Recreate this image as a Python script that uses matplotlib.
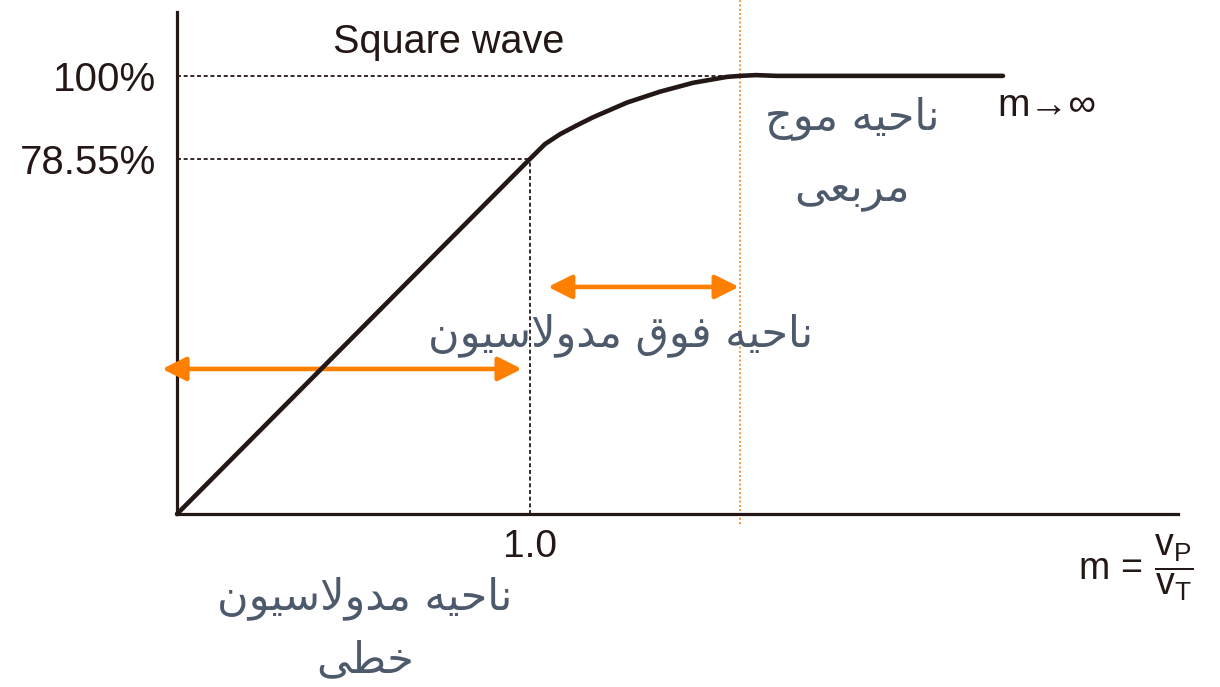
import matplotlib
matplotlib.use("Agg")
import matplotlib.pyplot as plt
import numpy as np

# --- data ---
m_vals = [0.0, 1.0, 1.0425, 1.085, 1.133, 1.178, 1.275, 1.368, 1.462, 1.558,
          1.595, 1.64, 1.70, 2.34]
pct_vals = [0.0, 78.55, 82.38, 84.93, 87.23, 89.28, 93.11, 95.91, 98.21, 99.74,
            100.0, 100.2, 100.0, 100.0]
ytick_vals = [78.55, 100]
ytick_labels = ["78.55%", "100%"]
xtick_vals = [1.0]
xtick_labels = ["1.0"]
m_knee = 1.0
m_square = 1.595

# schematic (non-uniform) vertical scale of the sketch: percent -> pixels
scale_pct = [-100.0, 0.0, 78.55, 100.0, 200.0]
scale_px = [-451.9, 0.0, 355.0, 438.0, 824.9]

# --- colours ---
COL_LINE = "#231815"
COL_ORANGE = "#ff7f00"
COL_FA = "#4d5a6b"

plt.rcParams["font.family"] = ["Liberation Sans", "DejaVu Sans"]
plt.rcParams["mathtext.fontset"] = "custom"
plt.rcParams["mathtext.rm"] = "Liberation Sans"
plt.rcParams["mathtext.it"] = "Liberation Sans"

# --- simple Persian shaping (matplotlib does no shaping / RTL) ---
FORMS = {
    "ا": ("\uFE8D", "\uFE8E"), "د": ("\uFEA9", "\uFEAA"),
    "ر": ("\uFEAD", "\uFEAE"), "و": ("\uFEED", "\uFEEE"),
    "LA": ("\uFEFB", "\uFEFC"),
    "ب": ("\uFE8F", "\uFE90", "\uFE91", "\uFE92"),
    "ج": ("\uFE9D", "\uFE9E", "\uFE9F", "\uFEA0"),
    "ح": ("\uFEA1", "\uFEA2", "\uFEA3", "\uFEA4"),
    "خ": ("\uFEA5", "\uFEA6", "\uFEA7", "\uFEA8"),
    "س": ("\uFEB1", "\uFEB2", "\uFEB3", "\uFEB4"),
    "ط": ("\uFEC1", "\uFEC2", "\uFEC3", "\uFEC4"),
    "ع": ("\uFEC9", "\uFECA", "\uFECB", "\uFECC"),
    "ف": ("\uFED1", "\uFED2", "\uFED3", "\uFED4"),
    "ق": ("\uFED5", "\uFED6", "\uFED7", "\uFED8"),
    "ل": ("\uFEDD", "\uFEDE", "\uFEDF", "\uFEE0"),
    "م": ("\uFEE1", "\uFEE2", "\uFEE3", "\uFEE4"),
    "ن": ("\uFEE5", "\uFEE6", "\uFEE7", "\uFEE8"),
    "ه": ("\uFEE9", "\uFEEA", "\uFEEB", "\uFEEC"),
    "ی": ("\uFEEF", "\uFEF0", "\uFEF3", "\uFEF4"),
}


def farsi(text):
    units = []
    i = 0
    while i < len(text):
        if text[i] == "ل" and i + 1 < len(text) and text[i + 1] == "ا":
            units.append("LA")
            i += 2
        else:
            units.append(text[i])
            i += 1
    out = []
    for k, u in enumerate(units):
        if u not in FORMS:
            out.append(u)
            continue
        prev = units[k - 1] if k > 0 else None
        nxt = units[k + 1] if k + 1 < len(units) else None
        j_prev = prev in FORMS and len(FORMS[prev]) == 4
        j_next = len(FORMS[u]) == 4 and nxt in FORMS
        f = FORMS[u]
        if j_prev and j_next:
            out.append(f[3])
        elif j_prev:
            out.append(f[1])
        elif j_next:
            out.append(f[2])
        else:
            out.append(f[0])
    return "".join(out)[::-1]


fig = plt.figure(figsize=(12.2, 6.87), dpi=100)
ax = fig.add_axes([0.1451, 0.2518, 0.8205, 0.7307])
ax.set_yscale("function", functions=(
    lambda v: np.interp(v, scale_pct, scale_px),
    lambda p: np.interp(p, scale_px, scale_pct)))
ax.set_xlim(0, 2.836)
ax.set_ylim(0, 116.5)

# main curve
ax.plot(m_vals, pct_vals, color=COL_LINE, lw=3.3, solid_capstyle="round",
        solid_joinstyle="round", clip_on=False, zorder=4)

# guide lines
dash = dict(color=COL_LINE, lw=1.3, dashes=(2.2, 1.5), zorder=3)
ax.plot([0, m_square], [100, 100], **dash)
ax.plot([0, m_knee], [78.55, 78.55], **dash)
ax.plot([m_knee, m_knee], [0, 78.55], **dash)
ax.plot([m_square, m_square], [-2.2, 119.6], color="#f7923a", lw=1.4,
        ls=(0, (1, 1.2)), clip_on=False, zorder=2)

# region arrows
arr = dict(arrowstyle="<|-|>,head_length=0.8,head_width=0.4", color=COL_ORANGE,
           lw=3.3, shrinkA=0, shrinkB=0, mutation_scale=18)
ax.annotate("", xy=(-0.042, 32.09), xytext=(0.977, 32.09), arrowprops=arr,
            annotation_clip=False)
ax.annotate("", xy=(1.051, 50.23), xytext=(1.592, 50.23), arrowprops=arr,
            annotation_clip=False)

# axes styling
for s in ["top", "right"]:
    ax.spines[s].set_visible(False)
for s in ["left", "bottom"]:
    ax.spines[s].set_linewidth(2.3)
    ax.spines[s].set_color(COL_LINE)
ax.set_yticks(ytick_vals, ytick_labels)
ax.set_xticks(xtick_vals, xtick_labels)
ax.yaxis.set_minor_locator(matplotlib.ticker.NullLocator())
ax.tick_params(axis="y", length=0, pad=15, labelsize=29, labelcolor=COL_LINE)
ax.tick_params(axis="x", length=0, pad=11, labelsize=28, labelcolor=COL_LINE)

# labels
ax.text(0.771, 108.8, "Square wave", fontsize=28.5, ha="center", va="center",
        color=COL_LINE)
ax.text(2.323, 92.25, "m→∞", fontsize=28, ha="left", va="center", color=COL_LINE)
ax.text(2.88, -11.95,
        r"$\mathrm{m}\,=\,\dfrac{\mathrm{v}_\mathrm{P}}{\mathrm{v}_\mathrm{T}}$",
        fontsize=27, ha="right", va="center", color=COL_LINE)

fa = dict(fontsize=31, ha="center", va="center", color=COL_FA, family="DejaVu Sans")
ax.text(1.912, 89.15, farsi("ناحیه موج"), clip_on=False, **fa)
ax.text(1.912, 71.7, farsi("مربعی"), clip_on=False, **fa)
ax.text(1.258, 39.6, farsi("ناحیه فوق مدولاسیون"), clip_on=False, **fa)
ax.text(0.533, -18.6, farsi("ناحیه مدولاسیون"), clip_on=False, **fa)
ax.text(0.533, -32.3, farsi("خطی"), clip_on=False, **fa)

fig.savefig("out.png", dpi=100)
